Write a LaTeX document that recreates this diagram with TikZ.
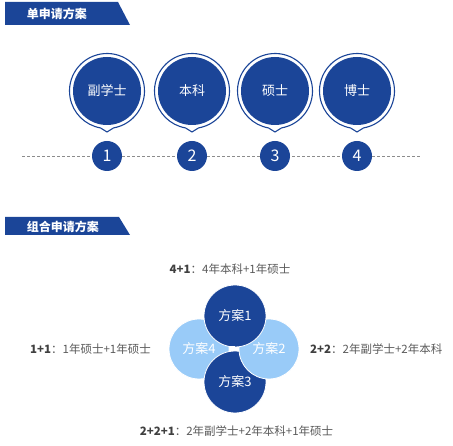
\documentclass[tikz,border=0pt]{standalone}
\usepackage{fontspec}
\setmainfont{Noto Sans CJK SC}
\definecolor{dblue}{HTML}{1B4598}
\definecolor{lblue}{HTML}{99CBF8}
\definecolor{txtgray}{HTML}{5A5A5A}
\definecolor{txtdark}{HTML}{404040}
\definecolor{dashgray}{HTML}{8C8C8C}
\begin{document}
\begin{tikzpicture}[x=1pt,y=1pt,
  banner/.style={fill=dblue},
  bannertext/.style={text=white,font=\bfseries\fontsize{12}{14}\selectfont,inner sep=0pt},
  pinring/.style={draw=dblue,line width=1.1pt,fill=white},
  pinhead/.style={circle,fill=dblue,minimum size=68pt,inner sep=0pt,text=white,font=\fontsize{13}{15}\selectfont},
  numdot/.style={circle,fill=dblue,minimum size=30pt,inner sep=0pt,text=white,font=\fontsize{16}{18}\selectfont},
  darkc/.style={circle,fill=dblue,draw=white,line width=0.8pt,minimum size=62pt,inner sep=0pt,text=white,font=\fontsize{13}{15}\selectfont},
  lightc/.style={circle,fill=lblue,draw=white,line width=0.8pt,minimum size=60pt,inner sep=0pt,text=white,font=\fontsize{13}{15}\selectfont},
  note/.style={text=txtgray,font=\fontsize{11.5}{13}\selectfont,inner sep=0pt},
  dashline/.style={draw=dashgray,line width=0.9pt,dash pattern=on 3pt off 2pt}
]
\useasboundingbox (0,0) rectangle (453,-446);

% banners
\fill[banner] (5,-2) -- (118,-2) -- (130,-25) -- (5,-25) -- cycle;
\node[bannertext] (b1) at (57,-14) {单申请方案};
\fill[banner] (5,-217) -- (119,-217) -- (130,-235) -- (5,-235) -- cycle;
\node[bannertext] (b2) at (63,-226.5) {组合申请方案};

% dashed timeline
\coordinate (L) at (22,-156);
\coordinate (R) at (420,-156);
\draw[dashline] (L) -- (R);

% pins
\foreach \x/\t/\n in {107/副学士/1, 192/本科/2, 275/硕士/3, 357/博士/4}{
  \draw[pinring] (\x,-91) ++(-80:37.5pt) arc[start angle=-80,end angle=260,radius=37.5pt] -- (\x,-132) -- cycle;
  \node[pinhead] (p\n) at (\x,-91) {\t};
  \node[numdot] (n\n) at (\x,-156) {\n};
}

% combination circles
\node[lightc] (c4) at (199,-349) {方案4};
\node[darkc] (c3) at (235,-382) {方案3};
\node[lightc] (c2) at (269,-349) {方案2};
\node[darkc] (c1) at (235,-316) {方案1};
\fill[white] (229.5,-346) rectangle (235,-350);

% notes
\node[note] (t1) at (230,-269) {{\bfseries\color{txtdark}4+1}：4年本科+1年硕士};
\node[note,anchor=west] (t4) at (30,-349) {{\bfseries\color{txtdark}1+1}：1年硕士+1年硕士};
\node[note,anchor=west] (t2) at (310,-349) {{\bfseries\color{txtdark}2+2}：2年副学士+2年本科};
\node[note] (t3) at (236.5,-431) {{\bfseries\color{txtdark}2+2+1}：2年副学士+2年本科+1年硕士};
\end{tikzpicture}
\end{document}
